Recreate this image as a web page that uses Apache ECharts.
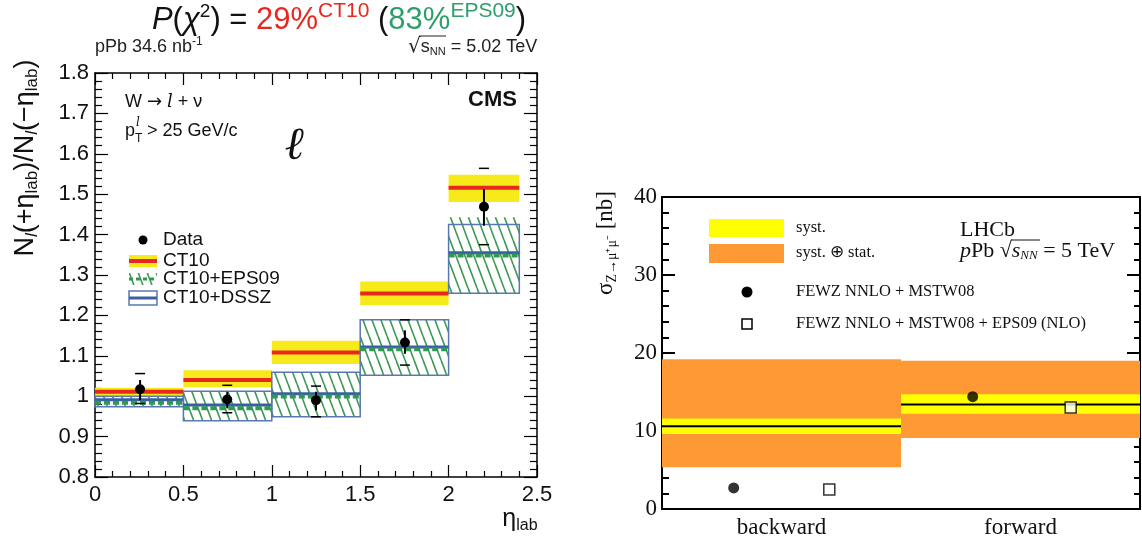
<!DOCTYPE html>
<html><head><meta charset="utf-8">
<script src="https://cdn.jsdelivr.net/npm/echarts@6/dist/echarts.min.js"></script>
<style>html,body{margin:0;padding:0;background:#fff}#c{width:1142px;height:545px}</style>
</head><body><div id="c"></div>
<script>
// ---------- CMS panel data ----------
const etaBinEdges = [0, 0.5, 1.0, 1.5, 2.0, 2.4];
const ct10Central = [1.011, 1.040, 1.108, 1.254, 1.516];
const ct10Low     = [1.001, 1.022, 1.080, 1.226, 1.481];
const ct10High    = [1.021, 1.064, 1.137, 1.284, 1.548];
const eps09Central = [0.984, 0.970, 0.999, 1.116, 1.348];
const eps09Low     = [0.974, 0.939, 0.949, 1.052, 1.255];
const eps09High    = [1.000, 1.012, 1.059, 1.189, 1.443];
const dsszCentral = [0.991, 0.978, 1.006, 1.122, 1.355];
const dsszLow     = [0.974, 0.939, 0.949, 1.052, 1.255];
const dsszHigh    = [1.000, 1.012, 1.059, 1.189, 1.425];
const dataEta      = [0.255, 0.748, 1.25, 1.753, 2.2];
const dataRatio    = [1.017, 0.992, 0.990, 1.133, 1.469];
const dataStatLow  = [0.990, 0.970, 0.965, 1.105, 1.422];
const dataStatHigh = [1.040, 1.011, 1.011, 1.163, 1.513];
const dataTotLow   = [0.982, 0.959, 0.949, 1.077, 1.375];
const dataTotHigh  = [1.056, 1.027, 1.025, 1.189, 1.564];

// ---------- LHCb panel data ----------
const lhcbCategories = ['backward', 'forward'];
const lhcbCentral  = [10.6, 13.4];
const lhcbSystLow  = [9.6, 12.2];
const lhcbSystHigh = [11.6, 14.7];
const lhcbTotLow   = [5.35, 9.1];
const lhcbTotHigh  = [19.2, 19.0];
const mstwPos   = [0.30, 1.30];
const mstwXsec  = [2.7, 14.4];
const mstwEpsPos  = [0.70, 1.71];
const mstwEpsXsec = [2.5, 13.0];

// ---------- styles ----------
const SANS = 'Liberation Sans, Arial, sans-serif';
const SERIF = 'Liberation Serif, Times New Roman, serif';
const YELLOW = '#f7ea1a', RED = '#e8281e', GREEN = '#2e9a4e', BLUE = '#3a5fa8', BOXBLUE = '#5a78b0';
const ORANGE = '#ff9933', LYELLOW = '#ffff00';

function makeHatch() {
  const w = 9, h = 24;
  const cv = document.createElement('canvas');
  cv.width = w; cv.height = h;
  const ctx = cv.getContext('2d');
  ctx.strokeStyle = '#3d9a52';
  ctx.lineWidth = 1.6;
  [-w, 0, w].forEach(o => {
    ctx.beginPath(); ctx.moveTo(o, 0); ctx.lineTo(o + w, h); ctx.stroke();
  });
  return {image: cv, repeat: 'repeat'};
}
const HATCH = makeHatch();

function bins(central, lo, hi) {
  return central.map((c, i) => [etaBinEdges[i], etaBinEdges[i + 1], lo[i], hi[i], c]);
}

const chart = echarts.init(document.getElementById('c'), null, {renderer: 'canvas'});

const axisCommon = {
  axisLine: {show: true, onZero: false, lineStyle: {color: '#000', width: 1.5}},
  splitLine: {show: false}
};
function txt(x, y, text, font, align, extra) {
  return Object.assign({type: 'text', x: x, y: y, style: {text: text, font: font, fill: '#111', align: align || 'left', verticalAlign: 'middle'}}, extra || {});
}

const option = {
  animation: false,
  backgroundColor: '#fff',
  grid: [
    {left: 95, top: 73, width: 442, height: 404},
    {left: 662, top: 197, width: 478, height: 312}
  ],
  xAxis: [
    Object.assign({}, axisCommon, {gridIndex: 0, type: 'value', min: 0, max: 2.5, interval: 0.5, position: 'bottom',
      axisTick: {inside: true, length: 12, lineStyle: {color: '#000', width: 1.2}},
      minorTick: {show: true, splitNumber: 5, length: 6, lineStyle: {color: '#000', width: 1.2}},
      axisLabel: {fontFamily: SANS, fontSize: 22, color: '#111', margin: 7, showMinLabel: true, showMaxLabel: true}}),
    Object.assign({}, axisCommon, {gridIndex: 0, type: 'value', min: 0, max: 2.5, interval: 0.5, position: 'top',
      axisTick: {inside: true, length: 12, lineStyle: {color: '#000', width: 1.2}},
      minorTick: {show: true, splitNumber: 5, length: 6, lineStyle: {color: '#000', width: 1.2}},
      axisLabel: {show: false}}),
    {gridIndex: 1, type: 'category', data: lhcbCategories, position: 'bottom', boundaryGap: true,
      axisLine: {show: true, lineStyle: {color: '#000', width: 2}},
      axisTick: {show: false}, splitLine: {show: false},
      axisLabel: {fontFamily: SERIF, fontSize: 23, color: '#111', margin: 7}},
    {gridIndex: 1, type: 'value', min: 0, max: 2, position: 'top',
      axisLine: {show: true, onZero: false, lineStyle: {color: '#000', width: 2}},
      axisTick: {show: false}, axisLabel: {show: false}, splitLine: {show: false}}
  ],
  yAxis: [
    Object.assign({}, axisCommon, {gridIndex: 0, type: 'value', min: 0.8, max: 1.8, interval: 0.1, position: 'left',
      axisTick: {inside: true, length: 13, lineStyle: {color: '#000', width: 1.2}},
      minorTick: {show: true, splitNumber: 5, length: 7, lineStyle: {color: '#000', width: 1.2}},
      axisLabel: {fontFamily: SANS, fontSize: 22, color: '#111', margin: 6, showMinLabel: true, showMaxLabel: true}}),
    Object.assign({}, axisCommon, {gridIndex: 0, type: 'value', min: 0.8, max: 1.8, interval: 0.1, position: 'right',
      axisTick: {inside: true, length: 13, lineStyle: {color: '#000', width: 1.2}},
      minorTick: {show: true, splitNumber: 5, length: 7, lineStyle: {color: '#000', width: 1.2}},
      axisLabel: {show: false}}),
    {gridIndex: 1, type: 'value', min: 0, max: 40, interval: 10, position: 'left',
      axisLine: {show: true, onZero: false, lineStyle: {color: '#000', width: 2}},
      axisTick: {inside: true, length: 13, lineStyle: {color: '#000', width: 2}},
      minorTick: {show: true, splitNumber: 5, length: 7, lineStyle: {color: '#000', width: 2}},
      splitLine: {show: false},
      axisLabel: {fontFamily: SERIF, fontSize: 23, color: '#111', margin: 5}},
    {gridIndex: 1, type: 'value', min: 0, max: 40, interval: 10, position: 'right',
      axisLine: {show: true, onZero: false, lineStyle: {color: '#000', width: 2}},
      axisTick: {inside: true, length: 13, lineStyle: {color: '#000', width: 2}},
      minorTick: {show: true, splitNumber: 5, length: 6, lineStyle: {color: '#000', width: 2}},
      splitLine: {show: false}, axisLabel: {show: false}}
  ],
  series: [
    // CT10 band
    {type: 'custom', xAxisIndex: 0, yAxisIndex: 0, data: bins(ct10Central, ct10Low, ct10High),
      renderItem: (params, api) => {
        const a = api.coord([api.value(0), api.value(3)]);
        const b = api.coord([api.value(1), api.value(2)]);
        const yc = api.coord([0, api.value(4)])[1];
        return {type: 'group', children: [
          {type: 'rect', shape: {x: a[0], y: a[1], width: b[0] - a[0], height: b[1] - a[1]}, style: {fill: YELLOW}},
          {type: 'line', shape: {x1: a[0], y1: yc, x2: b[0], y2: yc}, style: {stroke: RED, lineWidth: 4}}
        ]};
      }},
    // EPS09 hatched band
    {type: 'custom', xAxisIndex: 0, yAxisIndex: 0, data: bins(eps09Central, eps09Low, eps09High),
      renderItem: (params, api) => {
        const a = api.coord([api.value(0), api.value(3)]);
        const b = api.coord([api.value(1), api.value(2)]);
        return {type: 'rect', shape: {x: a[0], y: a[1], width: b[0] - a[0], height: b[1] - a[1]}, style: {fill: HATCH}};
      }},
    // DSSZ box
    {type: 'custom', xAxisIndex: 0, yAxisIndex: 0, data: bins(dsszCentral, dsszLow, dsszHigh),
      renderItem: (params, api) => {
        const a = api.coord([api.value(0), api.value(3)]);
        const b = api.coord([api.value(1), api.value(2)]);
        const yc = api.coord([0, api.value(4)])[1];
        return {type: 'group', children: [
          {type: 'rect', shape: {x: a[0], y: a[1], width: b[0] - a[0], height: b[1] - a[1]}, style: {fill: 'none', stroke: BOXBLUE, lineWidth: 1.5}},
          {type: 'line', shape: {x1: a[0], y1: yc, x2: b[0], y2: yc}, style: {stroke: BLUE, lineWidth: 3}}
        ]};
      }},
    // EPS09 central dashed line
    {type: 'custom', xAxisIndex: 0, yAxisIndex: 0, data: bins(eps09Central, eps09Low, eps09High),
      renderItem: (params, api) => {
        const a = api.coord([api.value(0), api.value(4)]);
        const b = api.coord([api.value(1), api.value(4)]);
        return {type: 'line', shape: {x1: a[0], y1: a[1], x2: b[0], y2: b[1]}, style: {stroke: GREEN, lineWidth: 4, lineDash: [6, 3]}};
      }},
    // Data points
    {type: 'custom', xAxisIndex: 0, yAxisIndex: 0,
      data: dataEta.map((x, i) => [x, dataRatio[i], dataStatLow[i], dataStatHigh[i], dataTotLow[i], dataTotHigh[i]]),
      renderItem: (params, api) => {
        const p = api.coord([api.value(0), api.value(1)]);
        const sl = api.coord([api.value(0), api.value(2)]);
        const sh = api.coord([api.value(0), api.value(3)]);
        const tl = api.coord([api.value(0), api.value(4)]);
        const th = api.coord([api.value(0), api.value(5)]);
        const cw = 5;
        return {type: 'group', children: [
          {type: 'line', shape: {x1: p[0], y1: sl[1], x2: p[0], y2: sh[1]}, style: {stroke: '#000', lineWidth: 2}},
          {type: 'line', shape: {x1: p[0] - cw, y1: tl[1], x2: p[0] + cw, y2: tl[1]}, style: {stroke: '#000', lineWidth: 1.5}},
          {type: 'line', shape: {x1: p[0] - cw, y1: th[1], x2: p[0] + cw, y2: th[1]}, style: {stroke: '#000', lineWidth: 1.5}},
          {type: 'circle', shape: {cx: p[0], cy: p[1], r: 5}, style: {fill: '#000'}}
        ]};
      }},
    // LHCb bands
    {type: 'custom', xAxisIndex: 3, yAxisIndex: 2,
      data: lhcbCategories.map((c, i) => [i, i + 1, lhcbTotLow[i], lhcbTotHigh[i], lhcbSystLow[i], lhcbSystHigh[i], lhcbCentral[i]]),
      renderItem: (params, api) => {
        const t0 = api.coord([api.value(0), api.value(3)]);
        const t1 = api.coord([api.value(1), api.value(2)]);
        const s0 = api.coord([api.value(0), api.value(5)]);
        const s1 = api.coord([api.value(1), api.value(4)]);
        const yc = api.coord([0, api.value(6)])[1];
        return {type: 'group', children: [
          {type: 'rect', shape: {x: t0[0], y: t0[1], width: t1[0] - t0[0], height: t1[1] - t0[1]}, style: {fill: ORANGE}},
          {type: 'rect', shape: {x: s0[0], y: s0[1], width: s1[0] - s0[0], height: s1[1] - s0[1]}, style: {fill: LYELLOW}},
          {type: 'line', shape: {x1: t0[0], y1: yc, x2: t1[0], y2: yc}, style: {stroke: '#000', lineWidth: 2}}
        ]};
      }},
    {type: 'scatter', xAxisIndex: 3, yAxisIndex: 2, symbol: 'circle', symbolSize: 11,
      itemStyle: {color: '#000'}, data: mstwPos.map((x, i) => [x, mstwXsec[i]])},
    {type: 'scatter', xAxisIndex: 3, yAxisIndex: 2, symbol: 'rect', symbolSize: 11,
      itemStyle: {color: '#fff', borderColor: '#000', borderWidth: 1.5}, data: mstwEpsPos.map((x, i) => [x, mstwEpsXsec[i]])}
  ],
  graphic: [
    // Title
    {type: 'text', x: 339, y: 20, style: {
      text: '{i|P}{n|(}{i|χ}{sup|2}{n|) = }{r|29%}{rs|CT10}{n| (}{g|83%}{gs|EPS09}{n|)}',
      align: 'center', verticalAlign: 'middle', fill: '#111',
      rich: {
        n: {fontFamily: SANS, fontSize: 31, fill: '#111'},
        i: {fontFamily: SANS, fontSize: 31, fontStyle: 'italic', fill: '#111'},
        sup: {fontFamily: SANS, fontSize: 19, fill: '#111', padding: [0, 0, 17, 0]},
        r: {fontFamily: SANS, fontSize: 31, fill: RED},
        rs: {fontFamily: SANS, fontSize: 21, fill: RED, padding: [0, 0, 17, 0]},
        g: {fontFamily: SANS, fontSize: 31, fill: '#2e9e6b'},
        gs: {fontFamily: SANS, fontSize: 21, fill: '#2e9e6b', padding: [0, 0, 17, 0]}
      }}},
    {type: 'text', x: 95, y: 47, style: {
      text: '{n|pPb 34.6 nb}{s|-1}', align: 'left', verticalAlign: 'middle',
      rich: {n: {fontFamily: SANS, fontSize: 18, fill: '#222'}, s: {fontFamily: SANS, fontSize: 12, fill: '#222', padding: [0, 0, 11, 0]}}}},
    {type: 'text', x: 408, y: 47, style: {
      text: '{r|√}{n|s}{sub|NN}{n| = 5.02 TeV}', align: 'left', verticalAlign: 'middle',
      rich: {r: {fontFamily: 'DejaVu Sans', fontSize: 20, fill: '#222'}, n: {fontFamily: SANS, fontSize: 18, fill: '#222'},
        sub: {fontFamily: SANS, fontSize: 11, fill: '#222', padding: [10, 0, 0, 0]}}}},
    {type: 'line', shape: {x1: 419, y1: 36, x2: 446, y2: 36}, style: {stroke: '#222', lineWidth: 1}},
    // left y title
    {type: 'text', x: 26, y: 158, rotation: Math.PI / 2, style: {
      text: '{n|N}{si|l}{n|(+η}{sub|lab}{n|)/N}{si|l}{n|(−η}{sub|lab}{n|)}', align: 'center', verticalAlign: 'middle',
      rich: {
        n: {fontFamily: SANS, fontSize: 27, fill: '#111'},
        sub: {fontFamily: SANS, fontSize: 17, fill: '#111', padding: [13, 0, 0, 0]},
        si: {fontFamily: SANS, fontSize: 17, fontStyle: 'italic', fill: '#111', padding: [13, 0, 0, 0]}
      }}},
    // x title
    {type: 'text', x: 520, y: 519, style: {
      text: '{n|η}{sub|lab}', align: 'center', verticalAlign: 'middle',
      rich: {n: {fontFamily: SANS, fontSize: 25, fill: '#111'}, sub: {fontFamily: SANS, fontSize: 16, fill: '#111', padding: [13, 0, 0, 0]}}}},
    // annotations
    {type: 'text', x: 125, y: 102, style: {
      text: '{n|W }{a|→}{n| }{i|l}{n| + ν}', align: 'left', verticalAlign: 'middle',
      rich: {n: {fontFamily: SANS, fontSize: 18, fill: '#111'}, a: {fontFamily: 'DejaVu Sans', fontSize: 18, fill: '#111'},
        i: {fontFamily: 'DejaVu Serif', fontSize: 18, fontStyle: 'italic', fill: '#111'}}}},
    txt(125, 131, 'p', '18px ' + SANS),
    txt(136, 123, 'l', 'italic 12px DejaVu Serif'),
    txt(135, 139, 'T', '12px ' + SANS),
    txt(147, 131, '> 25 GeV/c', '18px ' + SANS),
    txt(294, 147, 'ℓ', 'italic 46px DejaVu Serif', 'center'),
    txt(517, 100, 'CMS', 'bold 22px ' + SANS, 'right'),
    // CMS legend
    {type: 'circle', shape: {cx: 143, cy: 240, r: 4.5}, style: {fill: '#000'}},
    txt(163, 240, 'Data', '19px ' + SANS),
    {type: 'rect', shape: {x: 129, y: 255, width: 28, height: 12}, style: {fill: YELLOW}},
    {type: 'line', shape: {x1: 129, y1: 261, x2: 157, y2: 261}, style: {stroke: RED, lineWidth: 4}},
    txt(163, 261, 'CT10', '19px ' + SANS),
    {type: 'rect', shape: {x: 129, y: 273, width: 28, height: 12}, style: {fill: HATCH}},
    {type: 'line', shape: {x1: 129, y1: 279, x2: 157, y2: 279}, style: {stroke: GREEN, lineWidth: 3, lineDash: [4, 3]}},
    txt(163, 279, 'CT10+EPS09', '19px ' + SANS),
    {type: 'rect', shape: {x: 129, y: 291, width: 28, height: 14}, style: {fill: 'none', stroke: BOXBLUE, lineWidth: 1.5}},
    {type: 'line', shape: {x1: 129, y1: 298, x2: 157, y2: 298}, style: {stroke: BLUE, lineWidth: 3}},
    txt(163, 298, 'CT10+DSSZ', '19px ' + SANS),
    // LHCb y title
    {type: 'text', x: 606, y: 243, rotation: Math.PI / 2, style: {
      text: '{n|σ}{sub|Z→μ⁺μ⁻}{n| [nb]}', align: 'center', verticalAlign: 'middle',
      rich: {n: {fontFamily: SERIF, fontSize: 23, fill: '#111'}, sub: {fontFamily: SERIF, fontSize: 14, fill: '#111', padding: [13, 0, 0, 0]}}}},
    // LHCb legend
    {type: 'rect', shape: {x: 709, y: 219, width: 75, height: 18}, style: {fill: LYELLOW}},
    txt(796, 228, 'syst.', '16.5px ' + SERIF),
    {type: 'rect', shape: {x: 709, y: 244, width: 75, height: 19}, style: {fill: ORANGE}},
    txt(796, 253, 'syst. ⊕ stat.', '16.5px ' + SERIF),
    {type: 'circle', shape: {cx: 747, cy: 292, r: 5.5}, style: {fill: '#000'}},
    txt(796, 292, 'FEWZ NNLO + MSTW08', '16.5px ' + SERIF),
    {type: 'rect', shape: {x: 742, y: 319, width: 10, height: 10}, style: {fill: '#fff', stroke: '#000', lineWidth: 1.5}},
    txt(796, 324, 'FEWZ NNLO + MSTW08 + EPS09 (NLO)', '16.5px ' + SERIF),
    txt(960, 230, 'LHCb', '22px ' + SERIF),
    {type: 'text', x: 960, y: 251, style: {
      text: '{i|p}{n|Pb }{n|√}{i|s}{sub|NN}{n| = 5 TeV}', align: 'left', verticalAlign: 'middle',
      rich: {n: {fontFamily: SERIF, fontSize: 22, fill: '#111'}, i: {fontFamily: SERIF, fontSize: 22, fontStyle: 'italic', fill: '#111'},
        sub: {fontFamily: SERIF, fontSize: 13, fontStyle: 'italic', fill: '#111', padding: [10, 0, 0, 0]}}}},
    {type: 'line', shape: {x1: 1011, y1: 240, x2: 1040, y2: 240}, style: {stroke: '#111', lineWidth: 1}}
  ]
};
chart.setOption(option);
</script></body></html>
